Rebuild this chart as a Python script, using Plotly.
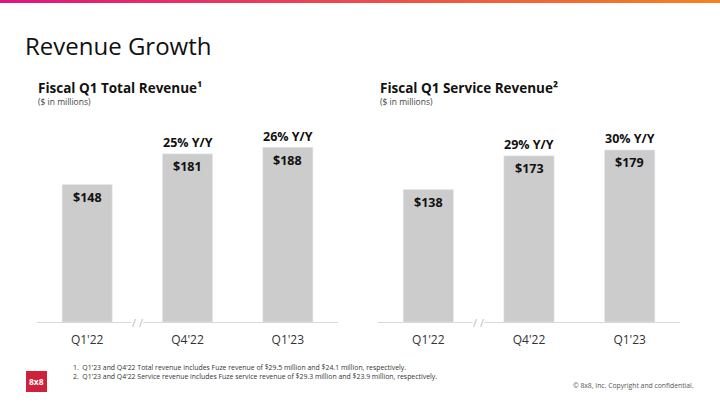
import plotly.graph_objects as go

W, H = 720, 405

categories = ["Q1'22", "Q4'22", "Q1'23"]
total_revenue = [148, 181, 188]
total_yoy = ["", "25% Y/Y", "26% Y/Y"]
service_revenue = [138, 173, 179]
service_yoy = ["", "29% Y/Y", "30% Y/Y"]

title = "Revenue Growth"
left_title = "Fiscal Q1 Total Revenue¹"
right_title = "Fiscal Q1 Service Revenue²"
unit_note = "($ in millions)"
footnotes = [
    "1.  Q1'23 and Q4'22 Total revenue includes Fuze revenue of $29.5 million and $24.1 million, respectively.",
    "2.  Q1'23 and Q4'22 Service revenue includes Fuze service revenue of $29.3 million and $23.9 million, respectively.",
]
copyright_text = "© 8x8, Inc. Copyright and confidential."

FONT = "Open Sans"
BAR = "#cccccc"
DARK = "#111111"

def px(x):
    return x / W

def py(y):
    return 1 - y / H

fig = go.Figure()
fig.add_trace(go.Bar(x=categories, y=total_revenue, marker_color=BAR, width=0.5,
                     xaxis="x", yaxis="y", hoverinfo="skip"))
fig.add_trace(go.Bar(x=categories, y=service_revenue, marker_color=BAR, width=0.5,
                     xaxis="x2", yaxis="y2", hoverinfo="skip"))

base_y = py(322)
top_y = py(100)
axis_common = dict(showgrid=False, zeroline=False, ticks="", showline=True,
                   linecolor="#d9d9d9", linewidth=1, ticklabelstandoff=7,
                   tickfont=dict(family=FONT, size=12, color="#333333"),
                   fixedrange=True)
yaxis_common = dict(showgrid=False, zeroline=False, showticklabels=False,
                    showline=False, fixedrange=True)

annotations = []
shapes = []

def add_panel_labels(xref, yref, values, yoy):
    for c, v, t in zip(categories, values, yoy):
        annotations.append(dict(x=c, y=v, xref=xref, yref=yref, text="<b>$%d</b>" % v,
                                showarrow=False, yshift=-13,
                                font=dict(family=FONT, size=12.5, color=DARK)))
        if t:
            annotations.append(dict(x=c, y=v, xref=xref, yref=yref, text="<b>%s</b>" % t,
                                    showarrow=False, yshift=11,
                                    font=dict(family=FONT, size=12.5, color=DARK)))
    # axis break mark between first and second category
    annotations.append(dict(x=0.5, y=0, xref=xref, yref=yref, text="/ /",
                            showarrow=False, bgcolor="white", borderpad=0,
                            font=dict(family=FONT, size=11, color="#bbbbbb")))

add_panel_labels("x", "y", total_revenue, total_yoy)
add_panel_labels("x2", "y2", service_revenue, service_yoy)

# titles
annotations.append(dict(x=px(23), y=py(45), xref="paper", yref="paper", xanchor="left",
                        yanchor="middle", text=title, showarrow=False,
                        font=dict(family=FONT, size=24, color=DARK)))
for x0, t in [(37, left_title), (379, right_title)]:
    annotations.append(dict(x=px(x0 - 1), y=py(88), xref="paper", yref="paper", xanchor="left",
                            yanchor="middle", text="<b>%s</b>" % t, showarrow=False,
                            font=dict(family=FONT, size=13.5, color=DARK)))
    annotations.append(dict(x=px(x0 - 1), y=py(101.5), xref="paper", yref="paper", xanchor="left",
                            yanchor="middle", text=unit_note, showarrow=False,
                            font=dict(family=FONT, size=8.5, color="#444444")))

annotations.append(dict(x=px(71), y=py(372), xref="paper", yref="paper",
                        xanchor="left", yanchor="middle", align="left",
                        text="<br>".join(footnotes), showarrow=False,
                        font=dict(family=FONT, size=6.9, color="#333333")))

annotations.append(dict(x=px(696), y=py(385), xref="paper", yref="paper", xanchor="right",
                        yanchor="middle", text=copyright_text, showarrow=False,
                        font=dict(family=FONT, size=6.8, color="#555555")))

# 8x8 logo
shapes.append(dict(type="rect", xref="paper", yref="paper", x0=px(26), x1=px(47),
                   y0=py(392), y1=py(371), fillcolor="#d0213c", line=dict(width=0)))
annotations.append(dict(x=px(36.5), y=py(381.5), xref="paper", yref="paper",
                        xanchor="center", yanchor="middle",
                        text="<b>8x8</b>", showarrow=False,
                        font=dict(family=FONT, size=8.5, color="white")))

# top gradient bar
c0 = (226, 20, 125)
c1 = (246, 130, 30)
n = 72
for i in range(n):
    t = i / (n - 1)
    col = "rgb(%d,%d,%d)" % tuple(round(a + (b - a) * t) for a, b in zip(c0, c1))
    shapes.append(dict(type="rect", xref="paper", yref="paper", x0=i / n, x1=(i + 1) / n + 0.001,
                       y0=py(3), y1=1, fillcolor=col, line=dict(width=0), layer="above"))

fig.update_layout(
    width=W, height=H, margin=dict(l=0, r=0, t=0, b=0),
    paper_bgcolor="white", plot_bgcolor="white", showlegend=False,
    xaxis=dict(domain=[px(37), px(338)], anchor="y", **axis_common),
    yaxis=dict(domain=[base_y, top_y], range=[0, 239], anchor="x", **yaxis_common),
    xaxis2=dict(domain=[px(378), px(680)], anchor="y2", **axis_common),
    yaxis2=dict(domain=[base_y, top_y], range=[0, 231], anchor="x2", **yaxis_common),
    annotations=annotations, shapes=shapes,
)

fig.write_html("out.html")
